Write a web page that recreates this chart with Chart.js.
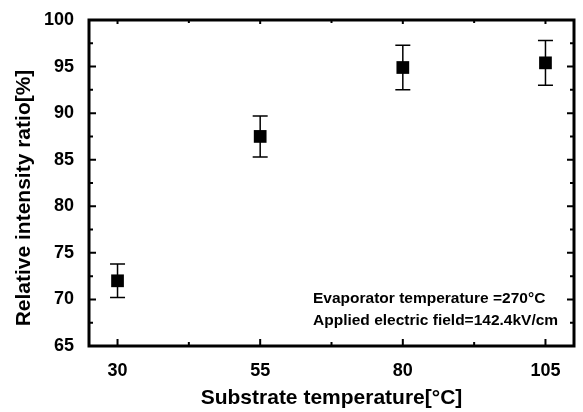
<!DOCTYPE html>
<html>
<head>
<meta charset="utf-8">
<script src="https://cdn.jsdelivr.net/npm/chart.js@4/dist/chart.umd.min.js"></script>
<style>
  html, body { margin: 0; padding: 0; background: #fff; }
  canvas { display: block; }
</style>
</head>
<body>
<canvas id="chart" width="583" height="412"></canvas>
<script>
// data
const temps = [30, 55, 80, 105];
const ratios = [72.0, 87.5, 94.9, 95.4];
const errors = [1.8, 2.2, 2.4, 2.4];
const xTicks = [30, 55, 80, 105];
const yTicks = [65, 70, 75, 80, 85, 90, 95, 100];
const notes = ['Evaporator temperature =270\u00B0C', 'Applied electric field=142.4kV/cm'];

const FONT = "'Liberation Sans', Arial, sans-serif";

const errorBars = {
  id: 'errorBars',
  beforeDatasetsDraw(chart) {
    const { ctx, scales: { x, y } } = chart;
    ctx.save();
    ctx.strokeStyle = '#000';
    ctx.lineWidth = 1.5;
    for (let i = 0; i < temps.length; i++) {
      const px = x.getPixelForValue(temps[i]);
      const top = y.getPixelForValue(ratios[i] + errors[i]);
      const bot = y.getPixelForValue(ratios[i] - errors[i]);
      ctx.beginPath();
      ctx.moveTo(px, top); ctx.lineTo(px, bot);
      ctx.moveTo(px - 7.5, top); ctx.lineTo(px + 7.5, top);
      ctx.moveTo(px - 7.5, bot); ctx.lineTo(px + 7.5, bot);
      ctx.stroke();
    }
    ctx.restore();
  }
};

const frame = {
  id: 'frame',
  afterDraw(chart) {
    const { ctx, chartArea: a, scales: { x, y } } = chart;
    ctx.save();
    ctx.strokeStyle = '#000';
    ctx.lineWidth = 3;
    ctx.strokeRect(a.left, a.top, a.right - a.left, a.bottom - a.top);

    ctx.lineWidth = 2;
    ctx.beginPath();
    for (let v = 65; v <= 100; v += 2.5) {
      const py = y.getPixelForValue(v);
      const len = v % 5 === 0 ? 7 : 4;
      ctx.moveTo(a.left, py); ctx.lineTo(a.left + len, py);
      ctx.moveTo(a.right, py); ctx.lineTo(a.right - len, py);
    }
    for (let v = 30; v <= 105; v += 12.5) {
      const px = x.getPixelForValue(v);
      const major = (v - 30) % 25 === 0;
      ctx.moveTo(px, a.bottom); ctx.lineTo(px, a.bottom - (major ? 7 : 4));
      ctx.moveTo(px, a.top); ctx.lineTo(px, a.top + (major ? 4 : 3));
    }
    ctx.stroke();

    // axis titles
    ctx.fillStyle = '#000';
    ctx.font = 'bold 21px ' + FONT;
    ctx.textAlign = 'center';
    ctx.textBaseline = 'middle';
    ctx.fillText('Substrate temperature[\u00B0C]', (a.left + a.right) / 2, 398);
    ctx.save();
    ctx.translate(24, 198);
    ctx.rotate(-Math.PI / 2);
    ctx.fillText('Relative intensity ratio[%]', 0, 0);
    ctx.restore();

    // annotation
    ctx.font = 'bold 15.5px ' + FONT;
    ctx.textAlign = 'left';
    ctx.textBaseline = 'alphabetic';
    ctx.fillText(notes[0], 313, 303);
    ctx.fillText(notes[1], 313, 325);
    ctx.restore();
  }
};

new Chart(document.getElementById('chart'), {
  type: 'scatter',
  data: {
    datasets: [{
      data: temps.map((t, i) => ({ x: t, y: ratios[i] })),
      pointStyle: 'rect',
      pointRadius: 9,
      pointHoverRadius: 9,
      backgroundColor: '#000',
      borderColor: '#000',
      borderWidth: 0
    }]
  },
  options: {
    responsive: false,
    animation: false,
    devicePixelRatio: 1,
    layout: { padding: { left: 0, top: 20, right: 5, bottom: 0 } },
    plugins: { legend: { display: false }, tooltip: { enabled: false } },
    scales: {
      x: {
        type: 'linear',
        min: 25,
        max: 110,
        afterBuildTicks: s => { s.ticks = xTicks.map(v => ({ value: v })); },
        afterFit: s => { s.height = 66; },
        grid: { display: false },
        border: { display: false },
        ticks: { color: '#000', padding: 6, font: { family: FONT, size: 18, weight: 'bold' } }
      },
      y: {
        min: 65,
        max: 100,
        afterBuildTicks: s => { s.ticks = yTicks.map(v => ({ value: v })); },
        afterFit: s => { s.width = 89; },
        grid: { display: false },
        border: { display: false },
        ticks: { color: '#000', padding: 7, font: { family: FONT, size: 18, weight: 'bold' } }
      }
    }
  },
  plugins: [errorBars, frame]
});
</script>
</body>
</html>
